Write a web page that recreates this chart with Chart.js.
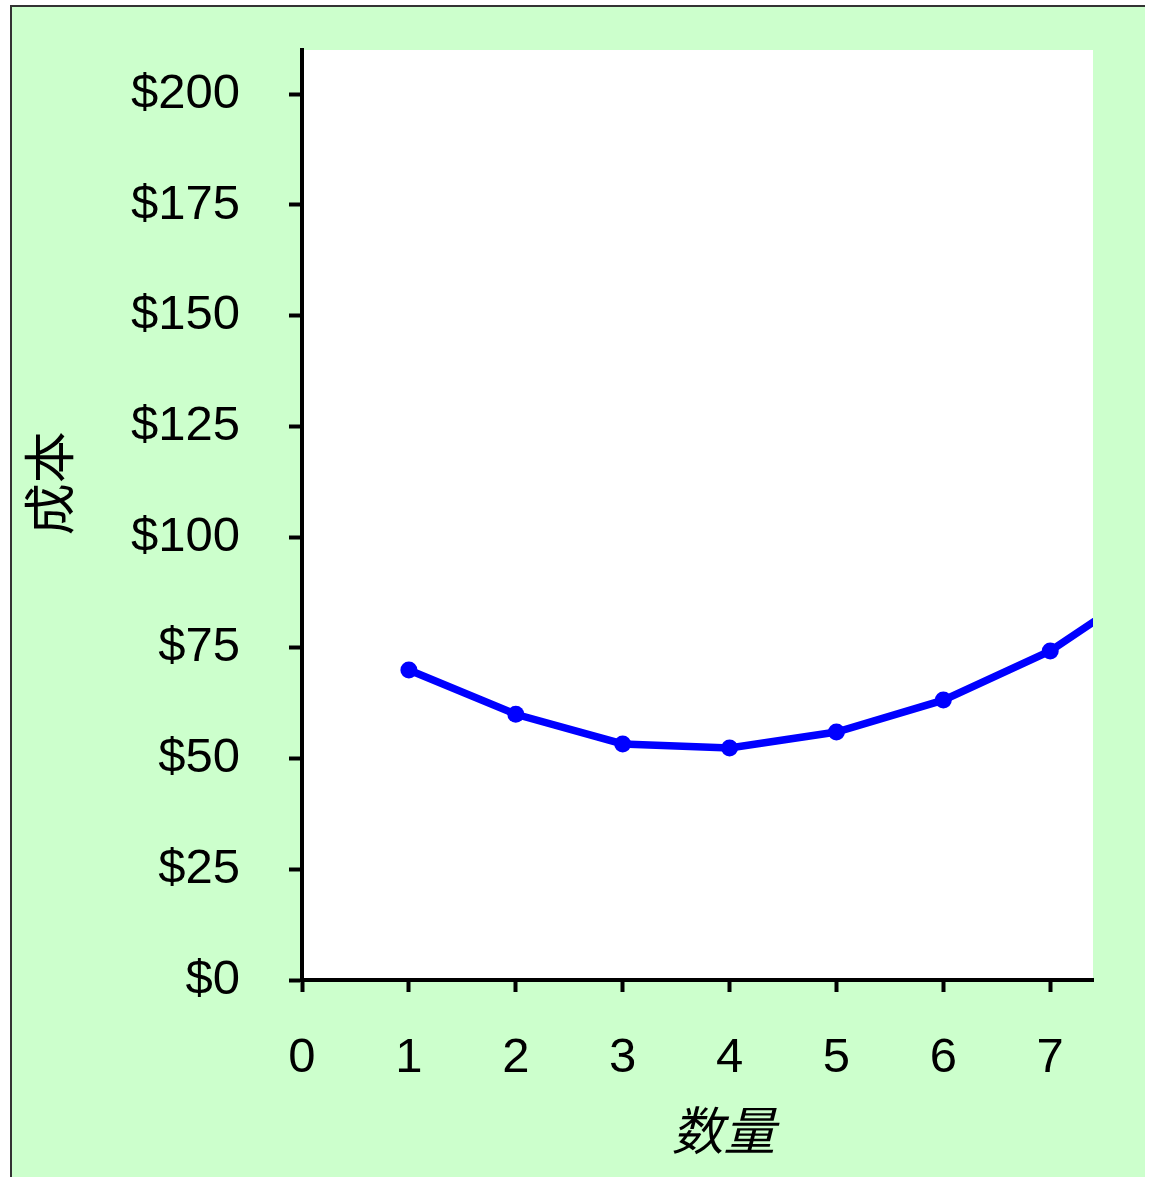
<!DOCTYPE html>
<html>
<head>
<meta charset="utf-8">
<script src="https://cdn.jsdelivr.net/npm/chart.js@4/dist/chart.umd.min.js"></script>
<style>
  html, body { margin: 0; padding: 0; background: #ffffff; }
  #panel {
    position: absolute;
    left: 10px;
    top: 5px;
    width: 1133px;
    height: 1170px;
    background: #ccffcc;
    border-top: 2px solid #333333;
    border-left: 2px solid #333333;
  }
</style>
</head>
<body>
<div id="panel">
  <canvas id="chart-cost" width="1133" height="1170"></canvas>
</div>
<script>
/* =====================
   DATA
===================== */

const quantity = [1, 2, 3, 4, 5, 6, 7, 8];
const averageCost = [70, 60, 53.3, 52.4, 56, 63.2, 74.3, 90.5];
const yTickValues = [0, 25, 50, 75, 100, 125, 150, 175, 200];
const xTickValues = [0, 1, 2, 3, 4, 5, 6, 7];

// a leading ideographic space nudges each title off centre, as in the original
const yTitle = '\u3000 成本';
const xTitle = '\u3000数量';

const points = quantity.map((q, i) => ({ x: q, y: averageCost[i] }));


/* =====================
   PLOT AREA BACKGROUND
===================== */

const plotBackground = {
    id: 'plotBackground',
    beforeDraw(chart) {
        const { ctx, chartArea } = chart;
        ctx.save();
        ctx.fillStyle = '#ffffff';
        ctx.fillRect(chartArea.left, chartArea.top,
            chartArea.right - chartArea.left, chartArea.bottom - chartArea.top);
        ctx.restore();
    }
};


/* =====================
   CREATE CHART
===================== */

const tickFont = { family: '"Liberation Sans", Arial, sans-serif', size: 49 };
const titleFont = { family: '"Noto Sans CJK SC", sans-serif', size: 52, weight: 'normal' };

const costCtx = document.getElementById('chart-cost').getContext('2d');

const chartCost = new Chart(costCtx, {
    type: 'line',
    data: {
        datasets: [{
            label: 'Average cost',
            data: points,
            borderColor: '#0000ff',
            backgroundColor: '#0000ff',
            borderWidth: 7.5,
            pointRadius: 8.5,
            pointBorderWidth: 0,
            fill: false,
            tension: 0,
            clip: 0
        }]
    },
    plugins: [plotBackground],
    options: {
        responsive: false,
        animation: false,
        layout: { padding: { top: 43, right: 52, left: 0, bottom: 0 } },
        plugins: {
            legend: { display: false },
            tooltip: { enabled: false }
        },
        scales: {
            x: {
                type: 'linear',
                min: 0,
                max: 7.4,
                afterBuildTicks: axis => {
                    axis.ticks = xTickValues.map(v => ({ value: v }));
                },
                afterFit: axis => {
                    axis.height = 197;
                    axis.paddingLeft = 0;
                    axis.paddingRight = 0;
                },
                ticks: {
                    font: tickFont,
                    color: '#000000',
                    padding: 37,
                    maxRotation: 0
                },
                grid: {
                    drawOnChartArea: false,
                    tickLength: 12,
                    tickWidth: 4,
                    tickColor: '#000000'
                },
                border: { display: true, color: '#000000', width: 4 },
                title: {
                    display: true,
                    text: xTitle,
                    font: { ...titleFont, style: 'italic' },
                    color: '#000000',
                    padding: { top: 0, bottom: 16 }
                }
            },
            y: {
                min: 0,
                max: 210,
                afterBuildTicks: axis => {
                    axis.ticks = yTickValues.map(v => ({ value: v }));
                },
                afterFit: axis => {
                    axis.width = 290;
                    axis.paddingTop = 0;
                    axis.paddingBottom = 0;
                },
                ticks: {
                    font: tickFont,
                    color: '#000000',
                    padding: 49,
                    callback: v => '$' + v
                },
                grid: {
                    drawOnChartArea: false,
                    tickLength: 13,
                    tickWidth: 4,
                    tickColor: '#000000'
                },
                border: { display: true, color: '#000000', width: 4 },
                title: {
                    display: true,
                    text: yTitle,
                    font: titleFont,
                    color: '#000000',
                    padding: { top: 6, bottom: 0 }
                }
            }
        }
    }
});
</script>
</body>
</html>
